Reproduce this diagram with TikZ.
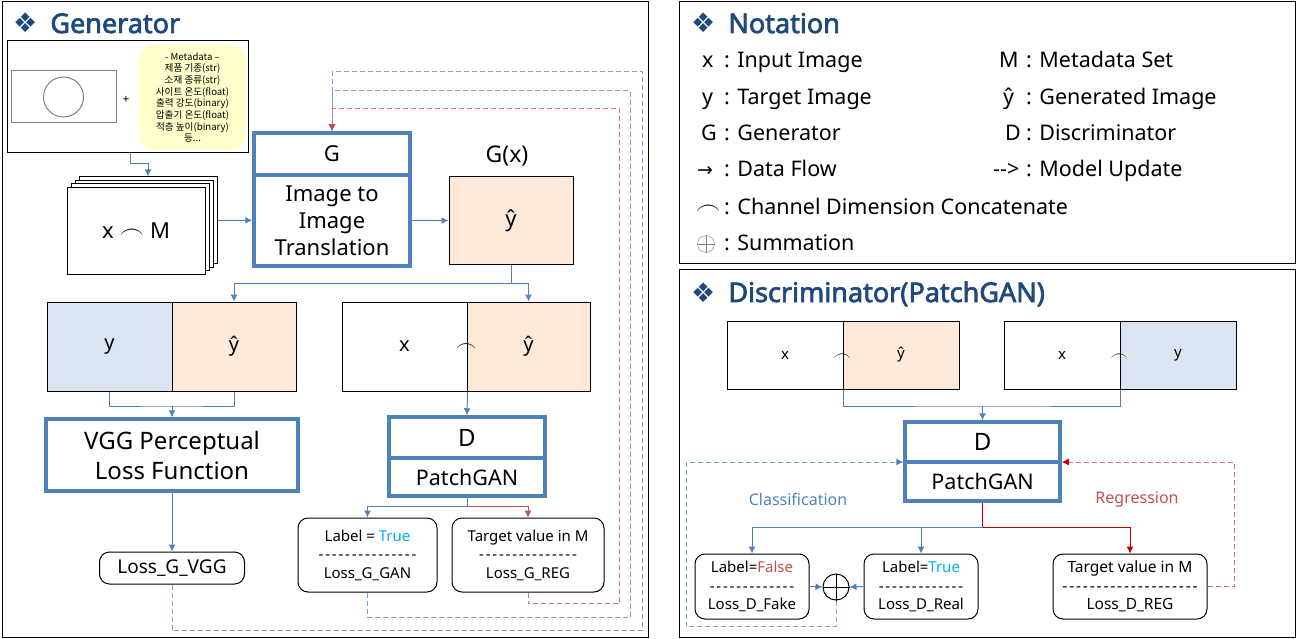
\documentclass[tikz,border=0pt]{standalone}
\usepackage{fontspec}
\setmainfont{Noto Sans}[Ligatures=TeXOff]
\newfontfamily\titlefont{Noto Sans}[FakeBold=2.5]
\newfontfamily\krfont{Noto Sans CJK KR}
\newfontfamily\dejavu{DejaVu Sans}
\usetikzlibrary{calc,positioning,arrows.meta}

\definecolor{boxblue}{RGB}{79,129,189}
\definecolor{titleblue}{RGB}{31,73,125}
\definecolor{peach}{RGB}{253,233,217}
\definecolor{paleblue}{RGB}{219,229,241}
\definecolor{metayellow}{RGB}{255,255,204}
\definecolor{dashblue}{RGB}{120,160,210}
\definecolor{regred}{RGB}{192,80,77}
\definecolor{dashred}{RGB}{225,110,110}
\definecolor{darkred}{RGB}{192,0,0}
\definecolor{truecyan}{RGB}{0,176,240}

\newcommand{\diamondmark}{{\dejavu\fontsize{27}{27}\selectfont ❖}\hspace{13pt}}
\newcommand{\dashrow}[1]{{\addfontfeature{LetterSpace=12}#1}}

\tikzset{
  plainbox/.style={draw, line width=1pt, inner sep=0pt},
  bluebox/.style={draw=boxblue, line width=3.5pt, inner sep=0pt},
  lossbox/.style={draw, line width=1pt, rounded corners=10pt, inner sep=0pt, align=center},
  flowline/.style={draw=boxblue, line width=1pt},
  flow/.style={flowline, -{Latex[length=7pt,width=7pt]}},
  redflow/.style={draw=regred, line width=1pt, -{Latex[length=7pt,width=7pt]}},
  darkflow/.style={draw=darkred, line width=1pt, -{Latex[length=7pt,width=7pt]}},
  updateblue/.style={draw=dashblue, line width=1pt, dash pattern=on 5pt off 3pt, -{Latex[length=7pt,width=7pt]}},
  updatered/.style={draw=dashred, line width=1pt, dash pattern=on 5pt off 3pt, -{Latex[length=7pt,width=7pt,color=regred]}},
  titletext/.style={anchor=base west, inner sep=0pt, text=titleblue, font=\titlefont\fontsize{27}{30}\selectfont},
  notetext/.style={anchor=base west, inner sep=0pt, font=\fontsize{21.5}{25}\selectfont},
}

\begin{document}
\begin{tikzpicture}[x=1pt,y=-1pt]
\useasboundingbox (0,0) rectangle (1297,639);

% panels
\draw[line width=1pt] (2,2) rectangle (648,637);
\draw[line width=1pt] (679,2) rectangle (1295,263);
\draw[line width=1pt] (679,269) rectangle (1295,637);

%% Generator
\node[titletext] (gentitle) at (13,33) {\diamondmark Generator};

\node[plainbox, minimum width=241pt, minimum height=112pt] (inbox) at (127.5,97) {};
\node[draw=gray, line width=1pt, inner sep=0pt, minimum width=105pt, minimum height=52pt] (inimg) at (63.5,97) {};
\node[draw=gray, circle, line width=1pt, inner sep=0pt, minimum size=40pt] (incircle) at (63.5,97) {};
\node[font=\fontsize{12}{12}\selectfont] (plus) at (126,100) {+};
\node[fill=metayellow, rounded corners=15pt, minimum width=107pt, minimum height=105pt, align=center,
      font=\krfont\fontsize{9.6}{11.7}\selectfont] (meta) at (192.5,97.5)
  {- Metadata –\\제품 기종(str)\\소재 종류(str)\\사이트 온도(float)\\출력 강도(binary)\\압출기 온도(float)\\적층 높이(binary)\\등...};

\foreach \k/\nm in {3/stackback,2/stacktwo,1/stackone}
  \node[plainbox, fill=white, minimum width=138pt, minimum height=87pt] (\nm) at (136+4*\k,230.5-3.4*\k) {};
\node[plainbox, fill=white, minimum width=138pt, minimum height=87pt, font=\fontsize{22}{26}\selectfont] (xm) at (136,230.5)
  {x\hspace{6pt}{\fontsize{28}{28}\selectfont$\frown$}\hspace{6pt}M};
\draw[flow] ([xshift=2.5pt]inbox.south) -- ++(0,10) -| (stackback.north);

\node[bluebox, minimum width=156pt, minimum height=42pt, font=\fontsize{22}{26}\selectfont] (gbox) at (332,154) {G};
\node[bluebox, minimum width=156pt, minimum height=91pt, align=center, font=\fontsize{22}{27}\selectfont] (gtrans) at (332,220.5)
  {Image to\\Image\\Translation};
\draw[flow] (stackback.east) -- (stackback.east -| gtrans.west);

\node[font=\fontsize{23}{26}\selectfont] (gxlabel) at (507,156) {G(x)};
\node[plainbox, fill=peach, minimum width=124pt, minimum height=87pt, font=\fontsize{22}{26}\selectfont] (ghat) at (511,220.5) {ŷ};
\draw[flow] (gtrans.east) -- (ghat.west);

\node[plainbox, fill=paleblue, minimum width=125pt, minimum height=89pt, font=\fontsize{20}{24}\selectfont] (ybox) at (109.5,346.5) {y};
\node[plainbox, fill=peach, minimum width=124pt, minimum height=89pt, font=\fontsize{20}{24}\selectfont] (yhbox) at (234,346.5) {ŷ};
\node[plainbox, minimum width=125pt, minimum height=89pt, font=\fontsize{20}{24}\selectfont] (xbox) at (404.5,346.5) {x};
\node[plainbox, fill=peach, minimum width=123pt, minimum height=89pt, font=\fontsize{20}{24}\selectfont] (xyhbox) at (528.5,346.5) {ŷ};
\node[inner sep=0pt, font=\fontsize{20}{20}\selectfont] (arcg) at (466,348) {$\frown$};

\coordinate (gsplit) at ($(ghat.south)+(0,19)$);
\draw[flowline] (ghat.south) -- (gsplit);
\draw[flow] (gsplit) -| (yhbox.north);
\draw[flow] (gsplit) -| (xyhbox.north);

\node[bluebox, minimum width=252pt, minimum height=72pt, align=center, font=\fontsize{24}{30}\selectfont] (vgg) at (172,455)
  {VGG Perceptual\\Loss Function};
\node[lossbox, minimum width=145pt, minimum height=32pt, font=\fontsize{19}{22}\selectfont] (lvgg) at (172,568) {Loss\_G\_VGG};
\coordinate (vjoin) at (172,406);
\draw[flowline] (ybox.south) |- (vjoin) -| (yhbox.south);
\draw[flow] (vjoin) -- (vgg.north);
\draw[flow] (vgg.south) -- (lvgg.north);

\node[bluebox, minimum width=156pt, minimum height=41pt, font=\fontsize{24}{28}\selectfont] (dtop) at (467,437.5) {D};
\node[bluebox, minimum width=156pt, minimum height=38pt, font=\fontsize{21.5}{25}\selectfont] (dbot) at (467,477) {PatchGAN};
\draw[flow] (xbox.south east) -- (dtop.north);

\node[lossbox, minimum width=139pt, minimum height=74pt, font=\fontsize{15}{18.5}\selectfont] (lgan) at (367.5,555)
  {Label = \textcolor{truecyan}{True}\\\dashrow{---------------}\\Loss\_G\_GAN};
\node[lossbox, minimum width=152pt, minimum height=74pt, font=\fontsize{15}{18.5}\selectfont] (lreg) at (528,555)
  {Target value in M\\\dashrow{---------------}\\Loss\_G\_REG};
\coordinate (dsplit) at ($(dbot.south)+(0,9)$);
\draw[flowline] (dbot.south) -- (dsplit);
\draw[flow] (dsplit) -| (lgan.north);
\draw[redflow] (dsplit) -| (lreg.north);

% model updates of G
\draw[updateblue] (lvgg.south) -- ++(0,46) -| (642,72) -| (gbox.north);
\draw[updateblue] (lgan.south) -- ++(0,25) -| (630,91) -| (gbox.north);
\draw[updatered] (lreg.south) -- ++(0,11) -| (619,109) -| (gbox.north);

%% Notation
\node[titletext] (notetitle) at (691,33) {\diamondmark Notation};
\node[notetext] (nsx) at (702,68) {x};
\node[notetext] (ntx) at (724,68) {: Input Image};
\node[notetext] (nsy) at (702,105) {y};
\node[notetext] (nty) at (724,105) {: Target Image};
\node[notetext] (nsg) at (701,141) {G};
\node[notetext] (ntg) at (724,141) {: Generator};
\node[notetext] (nsflow) at (697,177) {{\dejavu\fontsize{19}{19}\selectfont →}};
\node[notetext] (ntflow) at (724,177) {: Data Flow};
\node[notetext] (nsarc) at (696,214) {\fontsize{26}{26}\selectfont$\frown$};
\node[notetext] (ntarc) at (724,214) {: Channel Dimension Concatenate};
\node[draw=gray, circle, inner sep=0pt, minimum size=17pt] (nssum) at (706,244) {};
\draw[gray] (nssum.north) -- (nssum.south) (nssum.west) -- (nssum.east);
\node[notetext] (ntsum) at (724,250) {: Summation};
\node[notetext] (nsm) at (999,68) {M};
\node[notetext] (ntm) at (1026,68) {: Metadata Set};
\node[notetext] (nsyh) at (1003,105) {ŷ};
\node[notetext] (ntyh) at (1026,105) {: Generated Image};
\node[notetext] (nsd) at (1005,141) {D};
\node[notetext] (ntd) at (1026,141) {: Discriminator};
\node[notetext] (nsupd) at (993,177) {-->};
\node[notetext] (ntupd) at (1026,177) {: Model Update};

%% Discriminator
\node[titletext] (disctitle) at (691,302) {\diamondmark Discriminator(PatchGAN)};

\node[plainbox, minimum width=116pt, minimum height=68pt, font=\fontsize{15}{18}\selectfont] (dx1) at (785,355) {x};
\node[plainbox, fill=peach, minimum width=116pt, minimum height=68pt, font=\fontsize{15}{18}\selectfont] (dy1) at (901,355) {ŷ};
\node[plainbox, minimum width=116pt, minimum height=68pt, font=\fontsize{15}{18}\selectfont] (dx2) at (1062,355) {x};
\node[plainbox, fill=paleblue, minimum width=116pt, minimum height=68pt, font=\fontsize{15}{18}\selectfont] (dy2) at (1178,355) {y};
\node[inner sep=0pt, font=\fontsize{19}{19}\selectfont] (arcd1) at (842,357) {$\frown$};
\node[inner sep=0pt, font=\fontsize{19}{19}\selectfont] (arcd2) at (1119,357) {$\frown$};

\node[bluebox, minimum width=155pt, minimum height=40pt, font=\fontsize{24}{28}\selectfont] (ddtop) at (982.5,442) {D};
\node[bluebox, minimum width=155pt, minimum height=39pt, font=\fontsize{21.5}{25}\selectfont] (ddbot) at (982.5,481.5) {PatchGAN};
\coordinate (djoin) at (982.5,406);
\draw[flowline] (dx1.south east) |- (djoin) -| (dx2.south east);
\draw[flow] (djoin) -- (ddtop.north);

\node[font=\fontsize{16}{19}\selectfont, text=boxblue] (classlabel) at (798,499) {Classification};
\node[font=\fontsize{16}{19}\selectfont, text=regred] (reglabel) at (1137,500) {Regression};

\node[lossbox, minimum width=114pt, minimum height=65pt, font=\fontsize{15}{18.5}\selectfont] (lfake) at (752,586.5)
  {Label=\textcolor{regred}{False}\\\dashrow{-------------}\\Loss\_D\_Fake};
\node[lossbox, minimum width=114pt, minimum height=65pt, font=\fontsize{15}{18.5}\selectfont] (ltrue) at (921,586.5)
  {Label=\textcolor{truecyan}{True}\\\dashrow{-------------}\\Loss\_D\_Real};
\node[lossbox, minimum width=154pt, minimum height=65pt, font=\fontsize{15.5}{18.5}\selectfont] (ltarget) at (1130,586.5)
  {Target value in M\\\dashrow{--------------------}\\Loss\_D\_REG};
\node[draw, circle, line width=1pt, inner sep=0pt, minimum size=26pt] (sum) at (836,587) {};
\draw[line width=1pt] (sum.north) -- (sum.south) (sum.west) -- (sum.east);

\coordinate (ddsplit) at ($(ddbot.south)+(0,25)$);
\draw[draw=darkred, line width=1pt] (ddbot.south) -- (ddsplit);
\draw[flow] (ddsplit) -| (lfake.north);
\draw[flow] (ddsplit) -| (ltrue.north);
\draw[darkflow] (ddsplit) -| (ltarget.north);
\draw[flow] (lfake.east) -- (sum.west);
\draw[flow] (ltrue.west) -- (sum.east);

% model updates of D
\coordinate (dleftin) at (686,462);
\coordinate (drightin) at (1234,462);
\draw[updateblue, -{Latex[length=7pt,width=7pt,color=boxblue]}] (sum.south) -- ++(0,26) -| (dleftin) -- (dleftin -| ddbot.west);
\draw[updatered, -{Latex[length=7pt,width=7pt,color=darkred]}] (ltarget.east) -| (drightin) -- (drightin -| ddbot.east);
\end{tikzpicture}
\end{document}
